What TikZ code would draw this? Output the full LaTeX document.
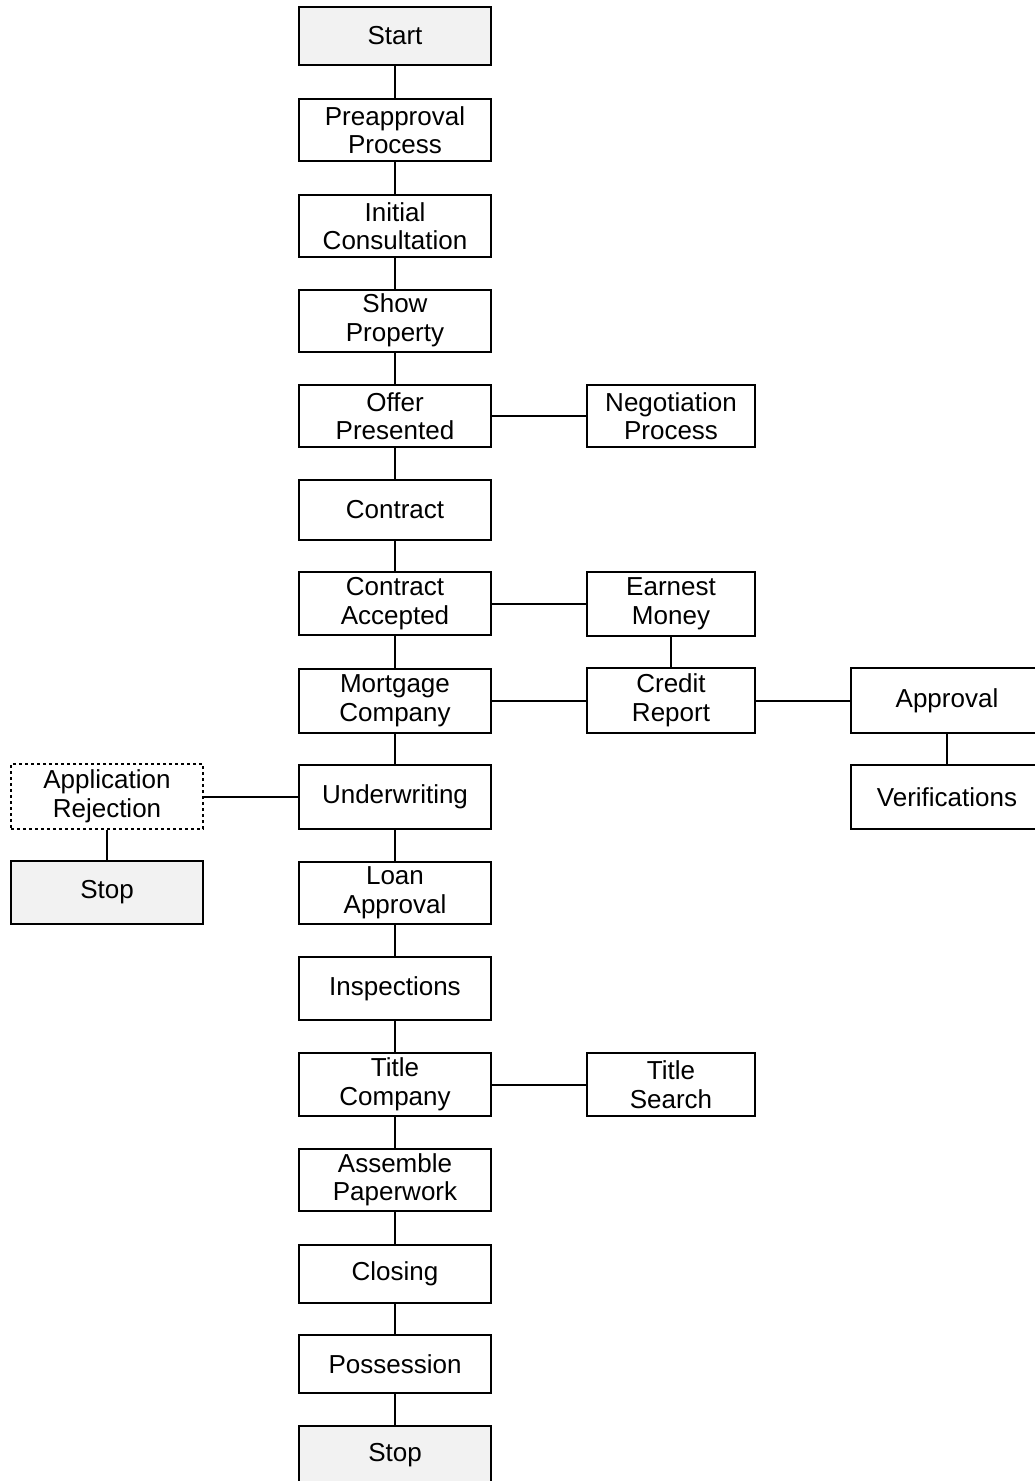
\documentclass[tikz,border=0pt]{standalone}
\usepackage{fontspec}
\setmainfont{Liberation Sans}
\begin{document}
\begin{tikzpicture}[x=1pt,y=-1pt,
  box/.style={draw=black,line width=2pt,align=center,inner sep=0pt,
    font=\fontsize{26}{28.5}\selectfont},
  grey/.style={fill={rgb,255:red,242;green,242;blue,242}},
  wa/.style={minimum width=192pt},
  wb/.style={minimum width=168pt},
  link/.style={line width=2pt}]
\useasboundingbox (0,0) rectangle (1035,1481);
% main column
\node[box,wa,grey,minimum height=58pt] (start) at (395,36) {Start};
\node[box,wa,minimum height=62pt] (pre) at (395,130) {Preapproval\\Process};
\node[box,wa,minimum height=62pt] (init) at (395,226) {Initial\\Consultation};
\node[box,wa,minimum height=62pt] (show) at (395,320.5) {Show\\Property};
\node[box,wa,minimum height=62pt] (offer) at (395,416) {Offer\\Presented};
\node[box,wa,minimum height=60pt] (contract) at (395,509.5) {Contract};
\node[box,wa,minimum height=63pt] (acc) at (395,603.5) {Contract\\Accepted};
\node[box,wa,minimum height=64pt] (mort) at (395,700.5) {Mortgage\\Company};
\node[box,wa,minimum height=64pt] (under) at (395,796.5) {Underwriting};
\node[box,wa,minimum height=62pt] (loan) at (395,892.5) {Loan\\Approval};
\node[box,wa,minimum height=63pt] (insp) at (395,988.5) {Inspections};
\node[box,wa,minimum height=63pt] (titlec) at (395,1084.5) {Title\\Company};
\node[box,wa,minimum height=62pt] (assem) at (395,1180) {Assemble\\Paperwork};
\node[box,wa,minimum height=58pt] (closing) at (395,1274) {Closing};
\node[box,wa,minimum height=58pt] (poss) at (395,1364) {Possession};
\node[box,wa,grey,minimum height=58pt] (stop) at (395,1455) {Stop};
% right column
\node[box,wb,minimum height=62pt] (nego) at (671,416) {Negotiation\\Process};
\node[box,wb,minimum height=64pt] (earn) at (671,603.5) {Earnest\\Money};
\node[box,wb,minimum height=65pt] (credit) at (671,700.5) {Credit\\Report};
\node[box,wb,minimum height=63pt] (tsearch) at (671,1084.5) {Title\\Search};
% far right
\node[box,wa,minimum height=65pt] (appr) at (947,700.5) {Approval};
\node[box,wa,minimum height=64pt] (verif) at (947,797) {Verifications};
% left
\node[box,wa,dashed,minimum height=65pt] (rej) at (107,796.5) {Application\\Rejection};
\node[box,wa,grey,minimum height=63pt] (stop2) at (107,892.5) {Stop};
% connectors
\draw[link] (start) -- (pre);
\draw[link] (pre) -- (init);
\draw[link] (init) -- (show);
\draw[link] (show) -- (offer);
\draw[link] (offer) -- (contract);
\draw[link] (contract) -- (acc);
\draw[link] (acc) -- (mort);
\draw[link] (mort) -- (under);
\draw[link] (under) -- (loan);
\draw[link] (loan) -- (insp);
\draw[link] (insp) -- (titlec);
\draw[link] (titlec) -- (assem);
\draw[link] (assem) -- (closing);
\draw[link] (closing) -- (poss);
\draw[link] (poss) -- (stop);
\draw[link] (offer) -- (nego);
\draw[link] (acc) -- (earn);
\draw[link] (earn) -- (credit);
\draw[link] (mort) -- (credit);
\draw[link] (credit) -- (appr);
\draw[link] (appr) -- (verif);
\draw[link] (titlec) -- (tsearch);
\draw[link] (under) -- (rej);
\draw[link] (rej) -- (stop2);
\end{tikzpicture}
\end{document}
